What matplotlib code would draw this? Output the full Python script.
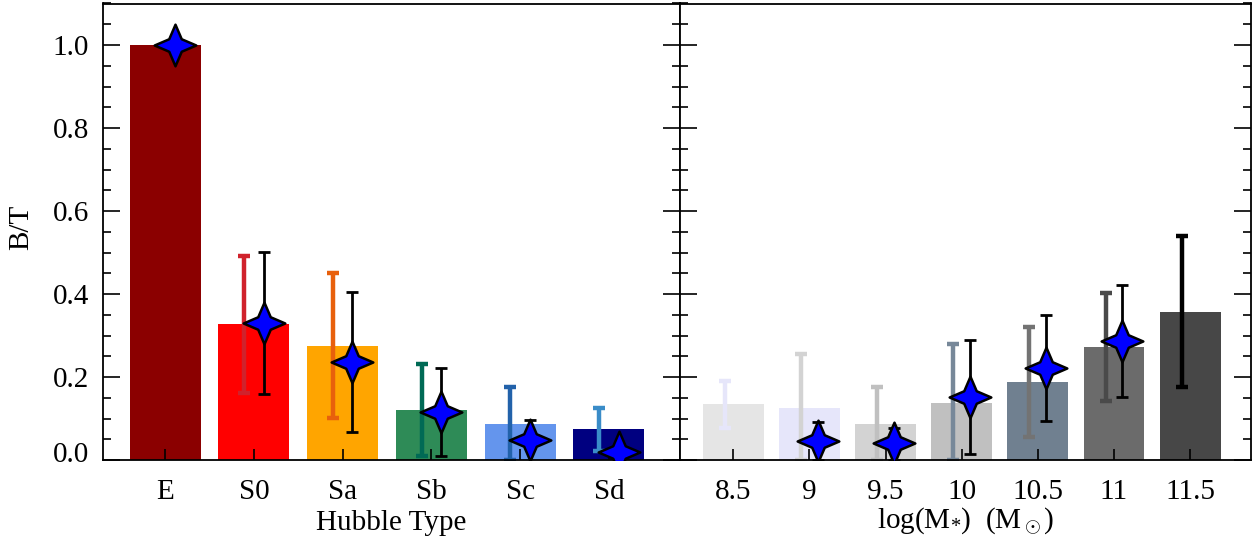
import numpy as np
import matplotlib
matplotlib.use("Agg")
import matplotlib.pyplot as plt
from matplotlib.path import Path
from matplotlib.ticker import MultipleLocator, FormatStrFormatter
import matplotlib.transforms as mtransforms

plt.rcParams['font.family'] = ['Liberation Serif', 'DejaVu Serif']
plt.rcParams['mathtext.fontset'] = 'custom'
plt.rcParams['mathtext.rm'] = 'Liberation Serif'
plt.rcParams['mathtext.it'] = 'Liberation Serif'

# ---- Left panel: Hubble type ----
hubble_types = ['E', 'S0', 'Sa', 'Sb', 'Sc', 'Sd']
hubble_bar = [1.0, 0.328, 0.275, 0.120, 0.087, 0.075]
hubble_bar_colors = ['#8b0000', '#ff0000', '#ffa500', '#2e8b57', '#6495ed', '#000080']
hubble_err_lo = [np.nan, 0.161, 0.101, 0.010, 0.000, 0.022]
hubble_err_hi = [np.nan, 0.492, 0.450, 0.231, 0.176, 0.125]
hubble_err_colors = ['#8b0000', '#d0222c', '#e8600c', '#006a55', '#2262aa', '#3a8cc8']
hubble_star = [1.0, 0.330, 0.236, 0.115, 0.048, 0.019]
hubble_star_lo = [1.0, 0.159, 0.067, 0.010, -0.01, 0.019]
hubble_star_hi = [1.0, 0.501, 0.405, 0.222, 0.096, 0.019]

# ---- Right panel: stellar mass ----
mass_labels = ['8.5', '9', '9.5', '10', '10.5', '11', '11.5']
mass_bar = [0.135, 0.125, 0.087, 0.137, 0.188, 0.272, 0.357]
mass_bar_colors = ['#e5e5e5', '#e6e6fa', '#d3d3d3', '#c0c0c0', '#708090', '#6b6b6b', '#474747']
mass_err_lo = [0.077, 0.000, 0.000, 0.000, 0.056, 0.142, 0.176]
mass_err_hi = [0.190, 0.255, 0.176, 0.280, 0.320, 0.403, 0.540]
mass_err_colors = ['#e6e6fa', '#d3d3d3', '#c0c0c0', '#778899', '#737373', '#4a4a4a', '#000000']
mass_star = [np.nan, 0.046, 0.041, 0.152, 0.222, 0.287, np.nan]
mass_star_lo = [np.nan, 0.000, 0.000, 0.014, 0.094, 0.152, np.nan]
mass_star_hi = [np.nan, 0.092, 0.077, 0.289, 0.350, 0.422, np.nan]

# 4-pointed star marker
w = 0.30
star_verts = [(0, 1), (w, w), (1, 0), (w, -w), (0, -1), (-w, -w), (-1, 0), (-w, w), (0, 1)]
star_codes = [Path.MOVETO] + [Path.LINETO] * 7 + [Path.CLOSEPOLY]
star_marker = Path(star_verts, star_codes)

fig = plt.figure(figsize=(12.6, 5.43), dpi=100)
axL = fig.add_axes([103 / 1260, 1 - 460 / 543, (680 - 103) / 1260, (460 - 3.5) / 543])
axR = fig.add_axes([680 / 1260, 1 - 460 / 543, (1251 - 680) / 1260, (460 - 3.5) / 543])

off = 0.11
fs = 21


def panel(ax, labels, bars, bcols, elo, ehi, ecols, star, slo, shi):
    x = np.arange(len(labels))
    ax.bar(x, bars, width=0.8, color=bcols, zorder=1)
    for i in range(len(labels)):
        if not np.isnan(elo[i]):
            ax.errorbar(x[i] - off, (elo[i] + ehi[i]) / 2, yerr=(ehi[i] - elo[i]) / 2,
                        fmt='none', ecolor=ecols[i], elinewidth=3.2, capsize=4.5,
                        capthick=3.2, zorder=2)
        if not np.isnan(star[i]):
            if shi[i] > slo[i]:
                ax.errorbar(x[i] + off, star[i],
                            yerr=[[star[i] - slo[i]], [shi[i] - star[i]]],
                            fmt='none', ecolor='black', elinewidth=2.0, capsize=4.5,
                            capthick=2.0, zorder=3)
            ax.plot(x[i] + off, star[i], marker=star_marker, markersize=30,
                    markerfacecolor='#0000ff', markeredgecolor='black',
                    markeredgewidth=1.8, linestyle='none', zorder=4)
    ax.set_xticks(x)
    ax.set_xticklabels(labels, fontsize=fs)
    ax.set_xlim(-0.7, len(labels) - 0.2)
    ax.set_ylim(0, 1.1)
    ax.yaxis.set_major_locator(MultipleLocator(0.2))
    ax.yaxis.set_minor_locator(MultipleLocator(0.05))
    ax.tick_params(axis='y', which='major', direction='in', length=12, width=1.2,
                   left=True, right=True, labelsize=fs, pad=10)
    ax.tick_params(axis='y', which='minor', direction='in', length=6, width=1.2,
                   left=True, right=True)
    ax.tick_params(axis='x', which='major', direction='in', length=8, width=1.2,
                   bottom=True, top=False, pad=14)
    for s in ax.spines.values():
        s.set_linewidth(1.3)


panel(axL, hubble_types, hubble_bar, hubble_bar_colors, hubble_err_lo, hubble_err_hi,
      hubble_err_colors, hubble_star, hubble_star_lo, hubble_star_hi)
panel(axR, mass_labels, mass_bar, mass_bar_colors, mass_err_lo, mass_err_hi,
      mass_err_colors, mass_star, mass_star_lo, mass_star_hi)

axL.yaxis.set_major_formatter(FormatStrFormatter('%.1f'))
axR.tick_params(axis='y', labelleft=False)

axL.set_ylabel('B/T', fontsize=fs, va='center')
axL.yaxis.set_label_coords(-(103 - 21) / 577, (460 - 227) / 456.5)
axL.set_xlabel('Hubble Type', fontsize=fs)
axR.set_xlabel(r'log(M$_{*}$)  (M$_\odot$)', fontsize=fs)
# place both x-labels so their centres sit at ~y=523 px
for ax in (axL, axR):
    ax.xaxis.label.set_va('center')
axL.xaxis.set_label_coords(0.5, -(523 - 460) / 456.5)
axR.xaxis.set_label_coords(0.5, -(521 - 460) / 456.5)

# IDL-style: the 0.0 label sits slightly above the axis
fig.canvas.draw()
shift = mtransforms.ScaledTranslation(0, 8 / 100, fig.dpi_scale_trans)
for t in axL.yaxis.get_major_ticks():
    if abs(t.get_loc()) < 1e-9:
        t.label1.set_transform(t.label1.get_transform() + shift)

fig.savefig('out.png', dpi=100)
